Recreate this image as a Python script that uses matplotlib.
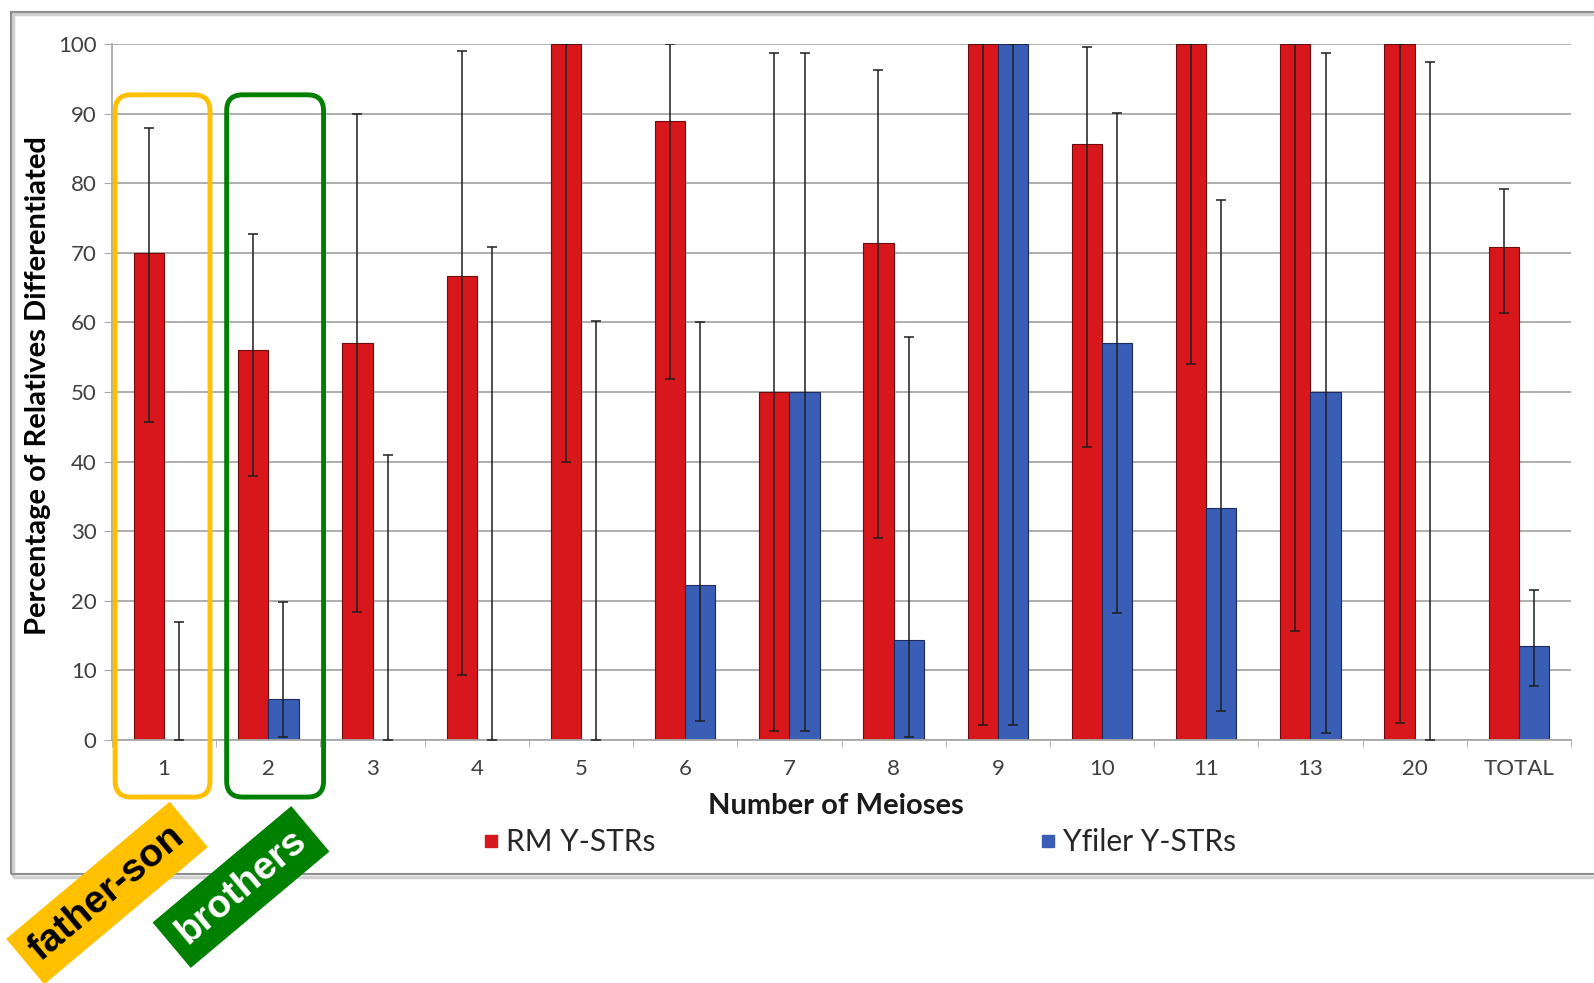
import numpy as np
import matplotlib.pyplot as plt
from matplotlib.patches import FancyBboxPatch, Rectangle
from matplotlib.lines import Line2D

plt.rcParams['font.family'] = ['Lato', 'DejaVu Sans']

categories = ['1', '2', '3', '4', '5', '6', '7', '8', '9', '10', '11', '13', '20', 'TOTAL']
rm = np.array([70.0, 56.0, 57.1, 66.7, 100, 88.9, 50.0, 71.4, 100, 85.7, 100, 100, 100, 70.9])
rm_low = np.array([45.7, 38.0, 18.4, 9.3, 40.0, 51.8, 1.3, 29.0, 2.2, 42.1, 54.0, 15.7, 2.4, 61.3])
rm_high = np.array([87.9, 72.7, 90.0, 99.0, 100, 100, 98.7, 96.2, 100, 99.5, 100, 100, 100, 79.2])
yf = np.array([0, 5.9, 0, 0, 0, 22.2, 50.0, 14.3, 100, 57.1, 33.3, 50.0, 0, 13.5])
yf_low = np.array([0, 0.5, 0, 0, 0, 2.7, 1.3, 0.4, 2.2, 18.3, 4.2, 1.0, 0, 7.7])
yf_high = np.array([16.9, 19.8, 40.9, 70.8, 60.2, 60.1, 98.7, 57.9, 100, 90.1, 77.6, 98.7, 97.4, 21.6])
series_names = ['RM Y-STRs', 'Yfiler Y-STRs']

red = '#D8171D'
blue = '#3A5DB6'
grid_c = '#A8A8A8'

W, H = 1594, 983
fig = plt.figure(figsize=(W / 100, H / 100), dpi=100)
ax = fig.add_axes([112 / W, 1 - 740 / H, (1571 - 112) / W, (740 - 44) / H])

x = np.arange(len(categories))
w = 0.29
ax.bar(x - w / 2, rm, w, color=red, edgecolor='#6E0A0A', linewidth=0.8, zorder=2)
ax.bar(x + w / 2, yf, w, color=blue, edgecolor='#1C2A60', linewidth=0.8, zorder=2)

ekw = dict(fmt='none', ecolor='#1E1E1E', elinewidth=1.1, capsize=3.5, capthick=1.1, zorder=3)
ax.errorbar(x - w / 2, rm, yerr=[rm - rm_low, rm_high - rm], **ekw)
ax.errorbar(x + w / 2, yf, yerr=[yf - yf_low, yf_high - yf], **ekw)

ax.set_xlim(-0.5, len(categories) - 0.5)
ax.set_ylim(0, 100)
ax.set_yticks(np.arange(0, 101, 10))
ax.yaxis.grid(True, color=grid_c, lw=1.3)
ax.set_axisbelow(True)
for s in ['top', 'right']:
    ax.spines[s].set_visible(False)
for s in ['left', 'bottom']:
    ax.spines[s].set_color(grid_c)
    ax.spines[s].set_linewidth(1.3)

ax.set_xticks(x)
ax.set_xticklabels(categories)
ax.set_xticks(np.arange(len(categories) + 1) - 0.5, minor=True)
ax.tick_params(axis='x', which='major', length=0, pad=14, labelsize=16, labelcolor='#404040')
ax.tick_params(axis='x', which='minor', length=5, color=grid_c, direction='out')
ax.tick_params(axis='y', length=6, color=grid_c, pad=5, labelsize=16, labelcolor='#404040')

ax.set_ylabel('Percentage of Relatives Differentiated', fontsize=21, fontweight='bold')
ax.yaxis.set_label_coords(-0.042, 0.509)
fig.text(836 / W, 1 - 806 / H, 'Number of Meioses', ha='center', va='center',
         fontsize=21, fontweight='bold', color='#1A1A1A')

handles = [Line2D([], [], marker='s', ls='none', color=c, markersize=9) for c in (red, blue)]
fig.legend(handles, series_names, loc='center left', bbox_to_anchor=(467 / W, 1 - 842 / H),
           ncol=2, frameon=False, fontsize=21.5, columnspacing=12.87, handletextpad=0.2,
           handlelength=0.6, borderpad=0, labelcolor='#262626')

# chart border with a light shadow
fig.add_artist(Rectangle((13 / W, 1 - 877 / H), 1.2, (877 - 14) / H, transform=fig.transFigure,
                         fill=False, ec='#D0D0D0', lw=2.5, zorder=0))
fig.add_artist(Rectangle((11 / W, 1 - 874 / H), 1.2, (874 - 12) / H, transform=fig.transFigure,
                         fill=False, ec='#8E8E8E', lw=1.5, zorder=0))

# highlight boxes around the first two groups
to_in = ax.transData + fig.dpi_scale_trans.inverted()
for idx, left, right, col in [(0, -0.47, 0.44, '#FFC000'), (1, -0.40, 0.53, '#008000')]:
    x0, y0 = to_in.transform((idx + left, -8.2))
    x1, y1 = to_in.transform((idx + right, 92.7))
    fig.add_artist(FancyBboxPatch((x0, y0), x1 - x0, y1 - y0,
                                  boxstyle='round,pad=0,rounding_size=0.16',
                                  transform=fig.dpi_scale_trans, fill=False, ec=col, lw=3.5))

fig.text(107 / W, 1 - 893 / H, 'father-son', rotation=40, rotation_mode='anchor',
         ha='center', va='center', fontsize=28, fontweight='bold', color='black',
         family=['Liberation Sans', 'DejaVu Sans'],
         bbox=dict(boxstyle='square,pad=0.3', fc='#FFC000', ec='none'))
fig.text(241 / W, 1 - 887 / H, 'brothers', rotation=40, rotation_mode='anchor',
         ha='center', va='center', fontsize=28, fontweight='bold', color='white',
         family=['Liberation Sans', 'DejaVu Sans'],
         bbox=dict(boxstyle='square,pad=0.3', fc='#008000', ec='none'))

fig.savefig('out.png', dpi=100, facecolor='white')
